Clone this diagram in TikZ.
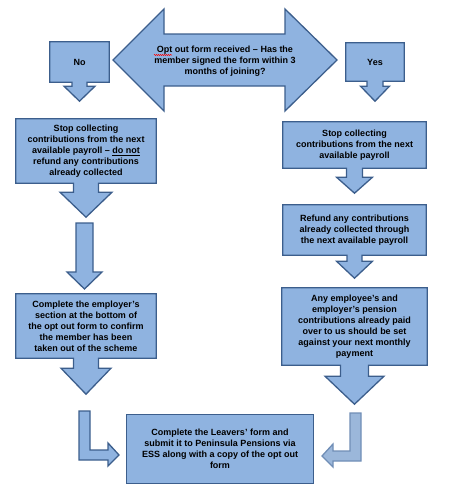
\documentclass[tikz,border=0pt]{standalone}
\usepackage{fontspec}
\setmainfont{Liberation Sans}
\usetikzlibrary{backgrounds,decorations.pathmorphing}

\definecolor{boxfill}{RGB}{143,179,224}
\definecolor{boxline}{RGB}{60,94,140}
\definecolor{palefill}{RGB}{155,183,218}
\definecolor{paleline}{RGB}{112,142,182}

\tikzset{
  flowtext/.style={inner sep=0pt, align=center, font=\bfseries\fontsize{9}{11}\selectfont},
  flowshape/.style={fill=boxfill, draw=boxline, line width=1.3pt, line join=miter},
  paleshape/.style={fill=palefill, draw=paleline, line width=1.3pt, line join=miter},
}

% box with a down arrow below it: node, shaft half width, head half width, shaft length, head length
\newcommand{\calloutdown}[5]{%
  \draw[flowshape] (#1.south west) -- (#1.north west) -- (#1.north east) -- (#1.south east)
    -- ([xshift=#2pt]#1.south) -- ([xshift=#2pt,yshift=-#4pt]#1.south)
    -- ([xshift=#3pt,yshift=-#4pt]#1.south) -- ([yshift=-#4pt-#5pt]#1.south)
    -- ([xshift=-#3pt,yshift=-#4pt]#1.south) -- ([xshift=-#2pt,yshift=-#4pt]#1.south)
    -- ([xshift=-#2pt]#1.south) -- cycle;}

\begin{document}
\begin{tikzpicture}[x=1pt,y=-1pt]
    \useasboundingbox (0,0) rectangle (453,496);

    % Add the labels
    \node[flowtext] (ask) at (225,61) {Opt out form received -- Has the\\member signed the form within 3\\months of joining?};
    \node[flowtext, minimum width=59pt, minimum height=40pt] (no) at (79.5,62) {No};
    \node[flowtext, minimum width=58pt, minimum height=38pt] (yes) at (375,62) {Yes};
    \node[flowtext, minimum width=140pt, minimum height=64pt] (stopno) at (86,151)
        {Stop collecting\\contributions from the next\\available payroll -- \underline{do not}\\refund any contributions\\already collected};
    \node[flowtext, minimum width=143pt, minimum height=46pt] (stopyes) at (354.5,145)
        {Stop collecting\\contributions from the next\\available payroll};
    \node[flowtext, minimum width=143pt, minimum height=50pt] (refund) at (354.5,230)
        {Refund any contributions\\already collected through\\the next available payroll};
    \node[flowtext, minimum width=140pt, minimum height=64pt] (employer) at (86,326)
        {Complete the employer’s\\section at the bottom of\\the opt out form to confirm\\the member has been\\taken out of the scheme};
    \node[flowtext, minimum width=145pt, minimum height=77pt] (employee) at (354.5,326.5)
        {Any employee’s and\\employer’s pension\\contributions already paid\\over to us should be set\\against your next monthly\\payment};
    \node[flowtext, minimum width=186pt, minimum height=68pt] (leavers) at (220,449)
        {Complete the Leavers’ form and\\submit it to Peninsula Pensions via\\ESS along with a copy of the opt out\\form};

    \begin{scope}[on background layer]
    % Draw the double arrow
    \draw[flowshape] (113,60) -- (164,9) -- (164,34) -- (285,34) -- (285,9) -- (337,60)
        -- (285,111) -- (285,86) -- (164,86) -- (164,111) -- cycle;

    % Draw the boxes with arrows
    \calloutdown{no}{7.5}{15.5}{4}{15}
    \calloutdown{yes}{8}{14.5}{5}{15}
    \calloutdown{stopno}{12.5}{26}{9}{25}
    \calloutdown{stopyes}{8}{18}{9}{16}
    \calloutdown{refund}{7.5}{18}{6}{17}
    \calloutdown{employer}{12.5}{25}{10}{26}
    \calloutdown{employee}{14}{29.5}{11}{28}
    \draw[flowshape] (leavers.south west) rectangle (leavers.north east);

    % Draw the free arrows
    \draw[flowshape] (76,223) -- (93,223) -- (93,272) -- (102,272) -- (84.5,289) -- (67,272) -- (76,272) -- cycle;
    \draw[flowshape] (79,411) -- (90,411) -- (90,450) -- (108,450) -- (108,443) -- (119,455)
        -- (108,466) -- (108,460) -- (79,460) -- cycle;
    \draw[paleshape] (361,413) -- (350,413) -- (350,451) -- (333,451) -- (333,444) -- (322,456)
        -- (333,467) -- (333,461) -- (361,461) -- cycle;
    \end{scope}

    % spelling mark under the first word
    \draw[red, line width=0.5pt, decorate, decoration={snake, amplitude=0.6pt, segment length=2pt}]
        (154,55) -- (172,55);
\end{tikzpicture}
\end{document}
